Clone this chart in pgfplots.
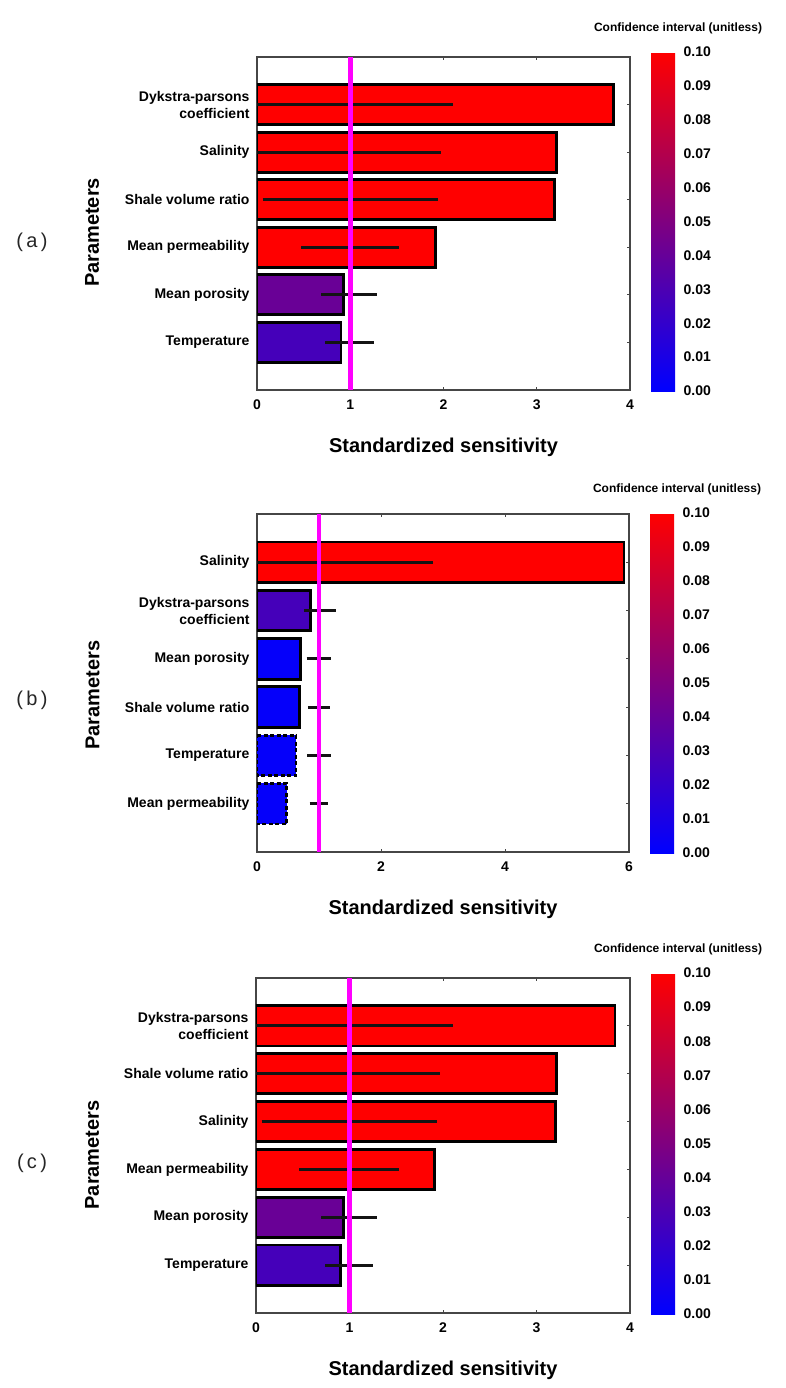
\documentclass[border=0pt]{standalone}
\usepackage{pgfplots}
\pgfplotsset{compat=1.18}
\usepackage{fontspec}
\setmainfont{Liberation Sans}

\definecolor{magline}{RGB}{255,0,255}
\definecolor{framegray}{RGB}{70,70,70}

\pgfplotsset{
  colormap={br}{rgb255=(0,0,255) rgb255=(255,0,0)},
  panel/.style={
    scale only axis,
    anchor=south west,
    ymin=0, ymax=7, y dir=reverse,
    ytick={1,2,3,4,5,6},
    ytick pos=right, yticklabel pos=left,
    xtick pos=both, xticklabel pos=left,
    tick align=inside,
    major tick length=3pt,
    every tick/.style={framegray, line width=0.8pt},
    axis line style={draw=framegray, line width=1.2pt},
    /pgf/number format/assume math mode=true,
    yticklabel style={font=\bfseries\fontsize{14}{17}\selectfont, align=right, xshift=-4pt},
    xticklabel style={font=\bfseries\fontsize{14}{14}\selectfont, yshift=-6pt},
    xlabel={Standardized sensitivity},
    ylabel={Parameters},
    xlabel style={at={(axis description cs:0.5,0)}, anchor=center, yshift=-57pt, font=\bfseries\fontsize{20}{20}\selectfont},
    ylabel style={anchor=center, font=\bfseries\fontsize{20}{20}\selectfont},
    colorbar,
    point meta min=0, point meta max=0.1,
    colorbar/width=24pt,
    colorbar style={
      scale only axis,
      width=24pt,
      at={(parent axis.north east)}, anchor=north west, xshift=12.5pt,
      ytick={0,0.01,0.02,0.03,0.04,0.05,0.06,0.07,0.08,0.09,0.1},
      scaled y ticks=false,
      yticklabel={\pgfmathprintnumber[fixed,fixed zerofill,precision=2,assume math mode=true]{\tick}},
      yticklabel style={font=\bfseries\fontsize{14}{14}\selectfont, xshift=5pt},
      major tick length=0pt,
      ytick style={draw=none},
      axis line style={draw=none},
      title={Confidence interval (unitless)},
      title style={at={(0.5,1)}, anchor=center, xshift=15pt, yshift=18pt, font=\bfseries\fontsize{12}{12}\selectfont},
    },
  },
}

% bar: [extra style]{y}{value}{percent red of CI scale (CI/0.1*100)}
\newcommand{\sbar}[4][solid]{%
  \addplot[xbar, bar width=0.84, bar shift=0pt, fill=red!#4!blue, draw=black, line width=2.8pt, #1] coordinates {(#3,#2)};%
}
% error line: {y}{low}{high}
\newcommand{\ebar}[3]{%
  \addplot[black!92, line width=2.8pt] coordinates {(#2,#1) (#3,#1)};%
}
\newcommand{\magline}{%
  \addplot[magline, line width=4.8pt] coordinates {(1,0) (1,7)};%
}

\begin{document}
\begin{tikzpicture}
\useasboundingbox (0,0) rectangle (786pt,-1388pt);
\fill[white] (0,0) rectangle (786pt,-1388pt);

% ---------------- (a) ----------------
\begin{axis}[panel, at={(257pt,-390pt)}, width=373pt, height=333pt,
  xmin=0, xmax=4, xtick={0,1,2,3,4},
  yticklabels={{Dykstra-parsons\\coefficient},Salinity,Shale volume ratio,Mean permeability,Mean porosity,Temperature},
  ylabel style={at={(axis description cs:-0.442,0.473)}},
  colorbar style={height=339pt, yshift=5pt}]
  \sbar{1}{3.82}{100}
  \sbar{2}{3.21}{100}
  \sbar{3}{3.19}{100}
  \sbar{4}{1.91}{100}
  \sbar{5}{0.93}{41}
  \sbar{6}{0.90}{27}
  \ebar{1}{0.00}{2.10}
  \ebar{2}{0.00}{1.97}
  \ebar{3}{0.06}{1.94}
  \ebar{4}{0.47}{1.52}
  \ebar{5}{0.69}{1.29}
  \ebar{6}{0.73}{1.25}
  \magline
\end{axis}

% ---------------- (b) ----------------
\begin{axis}[panel, at={(257pt,-852pt)}, width=372pt, height=338pt,
  xmin=0, xmax=6, xtick={0,2,4,6},
  yticklabels={Salinity,{Dykstra-parsons\\coefficient},Mean porosity,Shale volume ratio,Temperature,Mean permeability},
  ylabel style={at={(axis description cs:-0.442,0.464)}},
  colorbar style={height=340pt, yshift=1pt}]
  \sbar{1}{5.92}{100}
  \sbar{2}{0.86}{27}
  \sbar{3}{0.70}{2}
  \sbar{4}{0.68}{2}
  \sbar[dash pattern=on 4pt off 2.5pt]{5}{0.63}{2}
  \sbar[dash pattern=on 4pt off 2.5pt]{6}{0.48}{2}
  \ebar{1}{0.00}{2.84}
  \ebar{2}{0.76}{1.27}
  \ebar{3}{0.80}{1.20}
  \ebar{4}{0.82}{1.18}
  \ebar{5}{0.81}{1.19}
  \ebar{6}{0.85}{1.15}
  \magline
\end{axis}

% ---------------- (c) ----------------
\begin{axis}[panel, at={(256pt,-1313pt)}, width=374pt, height=335pt,
  xmin=0, xmax=4, xtick={0,1,2,3,4},
  yticklabels={{Dykstra-parsons\\coefficient},Shale volume ratio,Salinity,Mean permeability,Mean porosity,Temperature},
  ylabel style={at={(axis description cs:-0.438,0.472)}},
  colorbar style={height=341pt, yshift=5pt}]
  \sbar{1}{3.84}{100}
  \sbar{2}{3.21}{100}
  \sbar{3}{3.20}{100}
  \sbar{4}{1.91}{100}
  \sbar{5}{0.94}{41}
  \sbar{6}{0.90}{27}
  \ebar{1}{0.00}{2.11}
  \ebar{2}{0.00}{1.97}
  \ebar{3}{0.06}{1.94}
  \ebar{4}{0.46}{1.53}
  \ebar{5}{0.70}{1.29}
  \ebar{6}{0.74}{1.25}
  \magline
\end{axis}

\node[font=\fontsize{20}{20}\selectfont, text=black!85] at (32pt,-242pt) {(\,a\,)};
\node[font=\fontsize{20}{20}\selectfont, text=black!85] at (32pt,-700pt) {(\,b\,)};
\node[font=\fontsize{20}{20}\selectfont, text=black!85] at (32pt,-1163pt) {(\,c\,)};
\end{tikzpicture}
\end{document}
